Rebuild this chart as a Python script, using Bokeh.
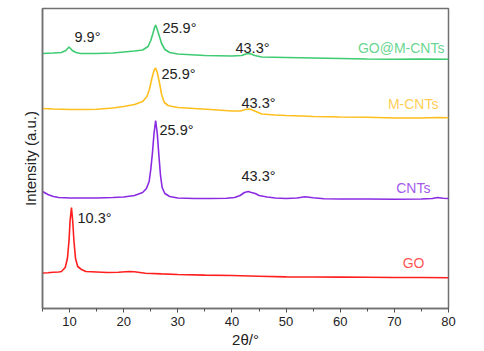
from bokeh.plotting import figure
from bokeh.models import Range1d, FixedTicker, ColumnDataSource
from bokeh.core.properties import value
from bokeh.embed import file_html
from bokeh.resources import INLINE

# --- data (2theta in degrees, intensity in arbitrary units incl. vertical offset) ---
go_x = [5, 6, 7, 8, 8.5, 9.2, 9.6, 9.9, 10.1, 10.35, 10.6, 10.8, 11.1, 11.5, 12.2, 13,
        15, 17, 19, 21, 22, 24, 27, 30, 35, 40, 45, 50, 55, 60, 65, 70, 75, 80]
go_y = [35.5, 35.8, 36.2, 36.5, 37, 41, 50, 68, 88, 101, 86, 68, 50, 42, 39, 37,
        36.5, 36, 36.3, 37, 36.8, 35.3, 34.6, 34, 33.4, 33, 32.3, 31.6, 31.5, 31.4, 31.2, 31, 31, 30.8]

cnt_x = [5, 6, 7, 8, 10, 12, 15, 18, 20, 22, 23, 23.5, 24.2, 24.7, 25.0, 25.3, 25.6, 25.9,
         26.2, 26.5, 26.8, 27.1, 27.6, 28.5, 30, 33, 36, 39, 40.5, 41.5, 42.3, 43.0, 43.6,
         44.3, 45, 46.5, 48, 50, 52, 53.5, 55, 57, 60, 65, 70, 75, 77, 78, 79, 80]
cnt_y = [117, 114, 112, 111, 110.5, 110.5, 110.5, 111, 111.5, 113, 115, 116, 120, 127, 139,
         155, 175, 188, 175, 153, 133, 121, 115, 112, 110.5, 110, 110, 110.2, 111, 113, 116,
         117, 116, 115, 113, 111.5, 110.5, 110, 110.5, 111.8, 110.8, 109.8, 109.5, 109.5,
         109.3, 109.5, 110, 111, 110.3, 110]

mcnt_x = [5, 7, 10, 13, 15, 18, 20, 22, 23.5, 24.3, 24.8, 25.2, 25.6, 25.9, 26.2, 26.6,
          27.0, 27.5, 28.2, 29, 30, 33, 36, 40, 41.5, 42.5, 43.3, 44.2, 45.5, 48, 50, 53,
          55, 58, 60, 65, 70, 75, 78, 80]
mcnt_y = [200, 199.5, 199, 199, 199.2, 200.5, 202, 204, 207, 212, 220, 230, 238, 240.5,
          236, 226, 214, 206, 203, 202, 201, 200, 199, 197.5, 197.5, 199, 199.5, 197.5,
          194.5, 193.5, 193, 192.5, 192, 191.7, 191.5, 191.2, 190.5, 190.5, 191, 190.7]

gocnt_x = [5, 7, 8.5, 9.3, 9.9, 10.5, 11.2, 12, 15, 18, 20, 22, 23.5, 24.5, 25.0, 25.4,
           25.7, 25.9, 26.2, 26.6, 27.0, 27.6, 28.5, 30, 35, 40, 41.8, 42.6, 43.3, 44.2,
           45.5, 50, 55, 60, 65, 70, 75, 80]
gocnt_y = [255, 255.5, 256, 258, 261.5, 258, 256, 255, 255, 255.5, 256.5, 257.5, 258.5,
           262, 268, 275, 281, 283.5, 279, 272, 265, 259, 256, 254.5, 253, 252.5, 253,
           254.5, 255, 253, 251.5, 251, 250.5, 250, 249.5, 249.3, 249.5, 249.3]

series_names = ["GO", "CNTs", "M-CNTs", "GO@M-CNTs"]
series_colors = ["#ff1f1f", "#8a2be2", "#ffbf1f", "#3ecb72"]
series_label_x = [75.55, 76.66, 78.14, 79.25]
series_label_y = [45.5, 120.5, 205, 260.5]

peak_labels = ["10.3°", "25.9°", "43.3°", "25.9°", "43.3°", "9.9°", "25.9°", "43.3°"]
peak_label_x = [11.46, 26.61, 41.76, 26.98, 41.76, 10.91, 27.16, 40.65]
peak_label_y = [90.5, 179, 132.5, 235, 206, 271.5, 280.5, 261]

x_ticks = [10, 20, 30, 40, 50, 60, 70, 80]

FONT = "Liberation Sans"

p = figure(width=484, height=351, output_backend="svg", toolbar_location=None,
           x_range=Range1d(5, 80), y_range=Range1d(0, 300),
           min_border_left=42, min_border_right=36, min_border_top=8, min_border_bottom=43)
p.xgrid.visible = False
p.ygrid.visible = False
p.outline_line_color = "#707070"
p.outline_line_width = 1.5
p.background_fill_color = "white"
p.border_fill_color = "white"

xs = [go_x, cnt_x, mcnt_x, gocnt_x]
ys = [go_y, cnt_y, mcnt_y, gocnt_y]
for x, y, c in zip(xs, ys, series_colors):
    p.line(x, y, line_color=c, line_width=1.6)

# series labels
src_s = ColumnDataSource(dict(x=series_label_x, y=series_label_y, t=series_names, c=series_colors))
p.text(x="x", y="y", text="t", text_color="c", source=src_s, text_align="right",
       text_baseline="middle", text_font=value(FONT), text_font_size="14px", text_alpha=0.8)

# peak labels
src_p = ColumnDataSource(dict(x=peak_label_x, y=peak_label_y, t=peak_labels))
p.text(x="x", y="y", text="t", source=src_p, text_align="left", text_baseline="middle",
       text_font=value(FONT), text_font_size="14.5px", text_color="#222222")

# axes
xa = p.xaxis[0]
xa.ticker = FixedTicker(ticks=x_ticks, minor_ticks=[5, 15, 25, 35, 45, 55, 65, 75])
xa.axis_label = "2θ/°"
xa.axis_label_text_font = FONT
xa.axis_label_text_font_style = "normal"
xa.axis_label_text_font_size = "15px"
xa.axis_label_text_color = "#222222"
xa.axis_label_standoff = 2
xa.major_label_text_font = FONT
xa.major_label_text_font_size = "13px"
xa.major_label_text_color = "#222222"
xa.major_label_standoff = 4
xa.axis_line_color = "#707070"
xa.axis_line_width = 1.5
xa.major_tick_line_color = "#505050"
xa.minor_tick_line_color = "#505050"
xa.major_tick_in = 0
xa.major_tick_out = 4
xa.minor_tick_in = 0
xa.minor_tick_out = 3

ya = p.yaxis[0]
ya.ticker = FixedTicker(ticks=[])
ya.axis_label = "Intensity (a.u.)"
ya.axis_label_text_font = FONT
ya.axis_label_text_font_style = "normal"
ya.axis_label_text_font_size = "15px"
ya.axis_label_text_color = "#222222"
ya.axis_label_standoff = 4
ya.major_label_standoff = 0
ya.major_tick_out = 0
ya.major_tick_in = 0
ya.minor_tick_out = 0
ya.minor_tick_in = 0
ya.axis_line_color = "#707070"
ya.axis_line_width = 1.5

open("out.html", "w").write(file_html(p, INLINE))
